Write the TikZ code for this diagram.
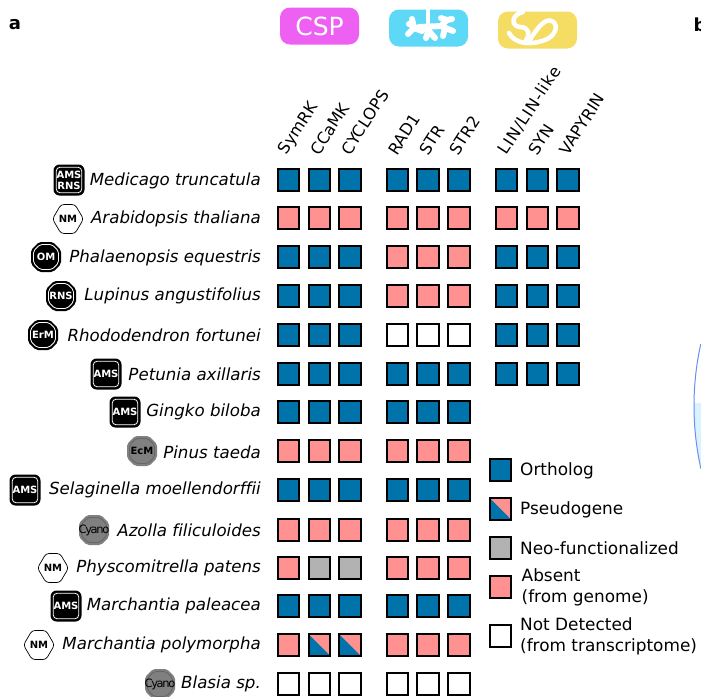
\documentclass[tikz,border=0pt]{standalone}
\usepackage{fontspec}
\setmainfont{DejaVu Sans}[Ligatures=NoCommon]
\definecolor{ortho}{HTML}{0073AA}
\definecolor{absent}{HTML}{FF9290}
\definecolor{neo}{HTML}{B2B2B2}
\definecolor{cspc}{HTML}{EE60F2}
\definecolor{arbc}{HTML}{5DD8F6}
\definecolor{myc}{HTML}{F5DC63}
\definecolor{badgegray}{HTML}{808080}
\definecolor{arcblue}{HTML}{6C8CF0}
\definecolor{arcfill}{HTML}{D8F2FF}
\tikzset{
  x=1pt,y=-1pt,
  cell/.style={draw=black,line width=2pt,minimum size=21.5pt,inner sep=0pt,outer sep=0pt,rectangle},
  O/.style={cell,fill=ortho},
  A/.style={cell,fill=absent},
  N/.style={cell,fill=neo},
  W/.style={cell,fill=white},
  P/.style={cell,fill=absent,path picture={\fill[ortho] (path picture bounding box.north west)--(path picture bounding box.south east)--(path picture bounding box.south west)--cycle;}},
  species/.style={font=\itshape\fontsize{16.65}{18}\selectfont,anchor=east,inner sep=0pt},
  gene/.style={font=\fontsize{16.2}{18}\selectfont,rotate=57,anchor=west,inner sep=0pt},
  legendtxt/.style={font=\fontsize{16.9}{21}\selectfont,anchor=west,inner sep=0pt,align=left},
  panel/.style={font=\bfseries\fontsize{18}{20}\selectfont,inner sep=0pt},
  pill/.style={rectangle,rounded corners=10pt,minimum width=79pt,minimum height=37pt,inner sep=0pt},
  bt/.style={font=\bfseries\fontsize{10}{11}\selectfont,inner sep=0pt,align=center},
  cy/.style={font=\fontsize{11.5}{12}\selectfont,black,inner sep=0pt},
  pict/.style={white,line cap=round,line join=round},
}
\newcommand{\octo}[4]{%
  \fill[#4,rounded corners=2pt] ({#1-15},{#2-7}) -- ({#1-7},{#2-15}) -- ({#1+7},{#2-15}) -- ({#1+15},{#2-7}) -- ({#1+15},{#2+7}) -- ({#1+7},{#2+15}) -- ({#1-7},{#2+15}) -- ({#1-15},{#2+7}) -- cycle;
  \draw[#3,line width=.8pt,rounded corners=2pt] ({#1-12.5},{#2-6}) -- ({#1-6},{#2-12.5}) -- ({#1+6},{#2-12.5}) -- ({#1+12.5},{#2-6}) -- ({#1+12.5},{#2+6}) -- ({#1+6},{#2+12.5}) -- ({#1-6},{#2+12.5}) -- ({#1-12.5},{#2+6}) -- cycle;
}
\newcommand{\nmbadge}[2]{%
  \draw[black,line width=.7pt,fill=white,rounded corners=3pt] ({#1-15.5},{#2}) -- ({#1-7},{#2-14.5}) -- ({#1+7},{#2-14.5}) -- ({#1+15.5},{#2}) -- ({#1+7},{#2+14.5}) -- ({#1-7},{#2+14.5}) -- cycle;
  \node[bt,black] at (#1,#2) {NM};
}
\newcommand{\sqbadge}[3]{%
  \fill[black,rounded corners=6pt] ({#1-15.5},{#2-15.5}) rectangle ({#1+15.5},{#2+15.5});
  \draw[white,line width=.8pt,rounded corners=4pt] ({#1-12.8},{#2-12.8}) rectangle ({#1+12.8},{#2+12.8});
  \node[bt,white] at (#1,#2) {#3};
}
\begin{document}
\begin{tikzpicture}
\useasboundingbox (0,0) rectangle (701,696);
\node[panel] (pa) at (15,25) {a};
\node[panel,anchor=west] (pb) at (693.5,25) {b};
% arc at right
\begin{scope}
\clip (979,406) circle [radius=285];
\fill[arcfill] (690,403) rectangle (701,470);
\end{scope}
\begin{scope}
\clip (680,344) rectangle (701,468);
\draw[arcblue,line width=1pt] (979,406) circle [radius=285];
\end{scope}
% pills
\node[pill,fill=cspc] (csp) at (319.5,26) {};
\node[font=\fontsize{25}{27}\selectfont,white] at (csp) {CSP};
\node[pill,fill=arbc] (arb) at (428.5,28) {};
\node[pill,fill=myc] (mycp) at (537.5,30) {};
% arbuscule
\begin{scope}[pict,line width=6pt]
\draw[line width=4pt] (428,10) -- (428,26);
\draw (428,26) -- (428,32) -- (426,38) (428,30) -- (435,38);
\draw (419,27) -- (442,26);
\draw (408,34) -- (414,28) -- (422,31) (414,28) -- (412,19) (414,26) -- (409,24);
\draw (441,26) -- (447,20) -- (452,19) (447,20) -- (441,18) (443,27) -- (453,31) (445,28) -- (443,36);
\end{scope}
% swirl
\begin{scope}[pict,line width=4.5pt]
\draw (509,33) .. controls (515,44) and (530,45) .. (542,41) .. controls (555,38) and (560,25) .. (552,21) .. controls (545,18) and (538,28) .. (533,35) .. controls (531,38) and (529,41) .. (527,43);
\draw (523,12) .. controls (512,14) and (510,26) .. (520,27) .. controls (530,27) and (530,36) .. (526,40);
\end{scope}
% gene labels
\foreach \x/\t/\n in {283/SymRK/g1,314/CCaMK/g2,345/CYCLOPS/g3,392/RAD1/g4,423/STR/g5,453/STR2/g6,532/SYN/g8,563/VAPYRIN/g9}
  \node[gene] (\n) at (\x,153) {\t};
\node[gene] (g7) at (502,153) {\addfontfeature{LetterSpace=5.5}LIN/LIN-like};
% species labels
\foreach \y/\t/\n in {
 181/Medicago truncatula/s1,219/Arabidopsis thaliana/s2,258/Phalaenopsis equestris/s3,
 296/Lupinus angustifolius/s4,335/Rhododendron fortunei/s5,374/Petunia axillaris/s6,
 412/Gingko biloba/s7,452/Pinus taeda/s8,490/Selaginella moellendorffii/s9,
 530/Azolla filiculoides/s10,568/Physcomitrella patens/s11,606/Marchantia paleacea/s12,
 645/Marchantia polymorpha/s13,684/Blasia sp./s14}
  \node[species] (\n) at (261,\y) {\t};
% badges
\sqbadge{69}{180}{AMS\\RNS}
\nmbadge{68}{219}
\octo{46}{257}{white}{black}\node[bt,white] at (46,257) {OM};
\octo{61}{296}{white}{black}\node[bt,white] at (61,296) {RNS};
\octo{43}{335}{white}{black}\node[bt,white] at (43,335) {ErM};
\sqbadge{106}{374}{AMS}
\sqbadge{125}{412}{AMS}
\octo{142}{451}{black!60}{badgegray}\node[bt,black] at (142,451) {EcM};
\sqbadge{25}{490}{AMS}
\octo{94}{530}{black!60}{badgegray}\node[cy] at (94,530) {\addfontfeature{LetterSpace=-12}Cyano};
\nmbadge{53}{568}
\sqbadge{66}{606}{AMS}
\nmbadge{39}{645}
\octo{160}{684}{black!60}{badgegray}\node[cy] at (160,684) {\addfontfeature{LetterSpace=-12}Cyano};
% matrix
\foreach \r/\y/\a/\b/\c/\d/\e/\f/\g/\h/\i in {
 1/180/O/O/O/O/O/O/O/O/O,
 2/218/A/A/A/A/A/A/A/A/A,
 3/257/O/O/O/A/A/A/O/O/O,
 4/296/O/O/O/A/A/A/O/O/O,
 5/335/O/O/O/W/W/W/O/O/O,
 6/374/O/O/O/O/O/O/O/O/O,
 7/412/O/O/O/O/O/O/-/-/-,
 8/451/A/A/A/A/A/A/-/-/-,
 9/490/O/O/O/O/O/O/-/-/-,
 10/530/A/A/A/A/A/A/-/-/-,
 11/568/A/N/N/A/A/A/-/-/-,
 12/606/O/O/O/O/O/O/-/-/-,
 13/645/A/P/P/A/A/A/-/-/-,
 14/684/W/W/W/W/W/W/-/-/-}{
  \node[\a] (c\r-1) at (288.5,\y) {};
  \node[\b] (c\r-2) at (319.3,\y) {};
  \node[\c] (c\r-3) at (350,\y) {};
  \node[\d] (c\r-4) at (397.3,\y) {};
  \node[\e] (c\r-5) at (428,\y) {};
  \node[\f] (c\r-6) at (459,\y) {};
  \if\g-\else
  \node[\g] (c\r-7) at (506.7,\y) {};
  \node[\h] (c\r-8) at (537.5,\y) {};
  \node[\i] (c\r-9) at (568,\y) {};
  \fi
}
% legend
\node[O] (l1) at (500.7,470) {};
\node[P] (l2) at (500.7,509) {};
\node[N] (l3) at (500.7,548) {};
\node[A] (l4) at (500.7,587) {};
\node[W] (l5) at (500.7,636) {};
\node[legendtxt] at (520,471) {Ortholog};
\node[legendtxt] at (520,510) {Pseudogene};
\node[legendtxt] at (520,548) {Neo-functionalized};
\node[legendtxt] at (521.5,587) {Absent\\(from genome)};
\node[legendtxt] at (520,636) {Not Detected\\(from transcriptome)};
\end{tikzpicture}
\end{document}
